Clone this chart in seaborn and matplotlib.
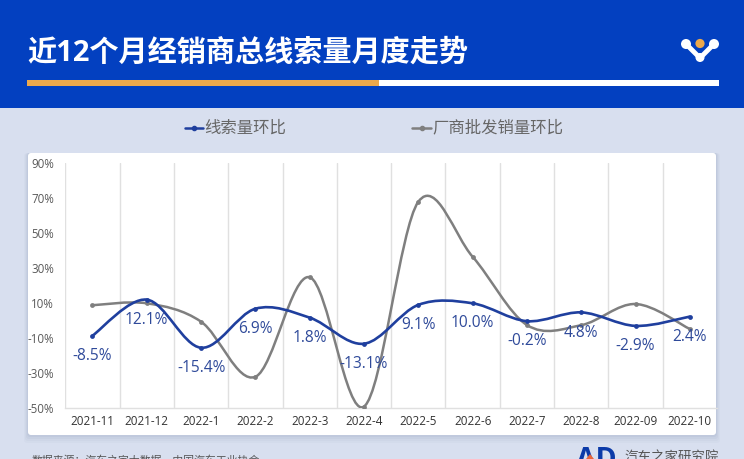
import numpy as np
import pandas as pd
import seaborn as sns
from matplotlib import pyplot as plt
from matplotlib.patches import Rectangle, FancyBboxPatch, PathPatch, Circle, Polygon
from matplotlib.path import Path

months = ['2021-11', '2021-12', '2022-1', '2022-2', '2022-3', '2022-4', '2022-5', '2022-6',
          '2022-7', '2022-8', '2022-09', '2022-10']
leads = [-8.5, 12.1, -15.4, 6.9, 1.8, -13.1, 9.1, 10.0, -0.2, 4.8, -2.9, 2.4]
wholesale = [8.9, 10.0, -0.5, -32.0, 24.9, -49.0, 68.0, 36.6, -2.4, -2.5, 9.6, -4.7]
lead_labels = ['-8.5%', '12.1%', '-15.4%', '6.9%', '1.8%', '-13.1%', '9.1%', '10.0%',
               '-0.2%', '4.8%', '-2.9%', '2.4%']
yticks = [-50, -30, -10, 10, 30, 50, 70, 90]

W, H = 744, 459
BLUE = '#0340c0'
LINE_BLUE = '#1f3f9e'
GRAY = '#7f7f7f'
LABEL_BLUE = '#2f4a9a'

sns.set_theme(style='white')
plt.rcParams['font.family'] = ['Open Sans', 'Noto Sans CJK SC', 'DejaVu Sans']


def smooth_path(xs, ys):
    # same curve as a spreadsheet "smoothed line", one bezier per segment
    xs = np.asarray(xs, dtype=float)
    ys = np.asarray(ys, dtype=float)
    verts = [(xs[0], ys[0])]
    codes = [Path.MOVETO]
    n = len(xs)
    for i in range(n - 1):
        a, b = max(i - 1, 0), min(i + 2, n - 1)
        verts.append((xs[i] + (xs[i + 1] - xs[a]) / 6, ys[i] + (ys[i + 1] - ys[a]) / 6))
        verts.append((xs[i + 1] - (xs[b] - xs[i]) / 6, ys[i + 1] - (ys[b] - ys[i]) / 6))
        verts.append((xs[i + 1], ys[i + 1]))
        codes += [Path.CURVE4] * 3
    return Path(verts, codes)


fig = plt.figure(figsize=(W / 100, H / 100), dpi=100, facecolor='#d8dfef')
bg = fig.add_axes([0, 0, 1, 1])
bg.set_xlim(0, W)
bg.set_ylim(H, 0)
bg.axis('off')

# header band
bg.add_patch(Rectangle((0, 0), W, 108, color=BLUE, lw=0))
bg.add_patch(Rectangle((27, 80), 352, 6, color='#eda94c', lw=0))
bg.add_patch(Rectangle((379, 80), 340, 6, color='white', lw=0))
bg.text(27, 53, '近12个月经销商总线索量月度走势', color='white', fontsize=21, fontweight='bold',
        va='center', ha='left')

# little logo top right
bg.plot([687, 700, 713], [45, 58, 45], color='white', lw=3.5, solid_capstyle='round',
        solid_joinstyle='round')
for cx, cy, r in [(686, 44, 5), (714, 44, 5), (700, 57.5, 4.5)]:
    bg.add_patch(Circle((cx, cy), r, color='white', lw=0))
bg.add_patch(Circle((700, 43.5), 4.6, color='#eda94c', lw=0))

# legend
bg.plot([185, 203], [128, 128], color=LINE_BLUE, lw=1.8)
bg.plot([194], [128], 'o', color=LINE_BLUE, ms=3)
bg.text(204, 128.5, '线索量环比', color='#666666', fontsize=11.8, va='center')
bg.plot([412, 431], [128, 128], color=GRAY, lw=1.8)
bg.plot([421.5], [128], 'o', color=GRAY, ms=3)
bg.text(432, 128.5, '厂商批发销量环比', color='#666666', fontsize=11.8, va='center')

# card with soft shadow
for off, alpha in [(8, 0.03), (6, 0.04), (4, 0.05), (2, 0.06)]:
    bg.add_patch(FancyBboxPatch((28 - off / 2, 153), 688 + off, 282 + off, color='#56688f',
                                alpha=alpha, lw=0, boxstyle='round,pad=0,rounding_size=3'))
bg.add_patch(FancyBboxPatch((28, 153), 688, 282, color='white', lw=0,
                            boxstyle='round,pad=0,rounding_size=3'))

# footer, cut off by the bottom of the image
bg.text(32, 461.5, '数据来源：汽车之家大数据，中国汽车工业协会', color='#555555', fontsize=7.8,
        va='center')
bg.text(624, 457.5, '汽车之家研究院', color='#555555', fontsize=9.7, va='center')
bg.text(596.5, 461, 'AD', color='#0b3aa8', fontsize=20.5, fontweight='bold', va='center',
        ha='center')
bg.add_patch(Polygon([[586, 459], [594, 459], [590, 454]], color='#e8663c', lw=0, zorder=5))

# plot area
x0, x1 = 65.3, 717
y_top, y_bot = 163.3, 408.3
ax = fig.add_axes([x0 / W, 1 - y_bot / H, (x1 - x0) / W, (y_bot - y_top) / H])
ax.patch.set_alpha(0)
df = pd.DataFrame({'month': months, 'leads': leads, 'wholesale': wholesale})
pos = np.arange(len(months))

ax.add_patch(PathPatch(smooth_path(pos, wholesale), fc='none', ec=GRAY, lw=1.8, zorder=3))
ax.add_patch(PathPatch(smooth_path(pos, leads), fc='none', ec=LINE_BLUE, lw=1.9, zorder=4))
sns.scatterplot(x=pos, y=df['wholesale'], color=GRAY, s=12, linewidth=0, ax=ax, zorder=3)
sns.scatterplot(x=pos, y=df['leads'], color=LINE_BLUE, s=12, linewidth=0, ax=ax, zorder=4)

ax.set_xlim(-0.5, len(months) - 0.5)
ax.set_ylim(-50, 90)
ax.set_xlabel('')
ax.set_ylabel('')
ax.set_yticks(yticks)
ax.set_yticklabels([f'{v}%' for v in yticks], color='#595959', fontsize=8.3)
ax.set_xticks(pos)
ax.set_xticklabels(months, color='#333333', fontsize=8.4)
ax.tick_params(axis='y', length=0, pad=8)
ax.tick_params(axis='x', length=0, pad=5)
for edge in np.arange(len(months)) - 0.5:
    ax.axvline(edge, color='#e0e0e0', lw=1, zorder=1)
for side in ['top', 'right', 'left']:
    ax.spines[side].set_visible(False)
ax.spines['bottom'].set_color('#e0e0e0')
ax.spines['bottom'].set_linewidth(1)

for p, v, t in zip(pos, leads, lead_labels):
    ax.annotate(t, (p, v), xytext=(0, -14.5), textcoords='offset points', ha='center', va='center',
                color=LABEL_BLUE, fontsize=11.2, zorder=5)

fig.savefig('out.png', dpi=100)
